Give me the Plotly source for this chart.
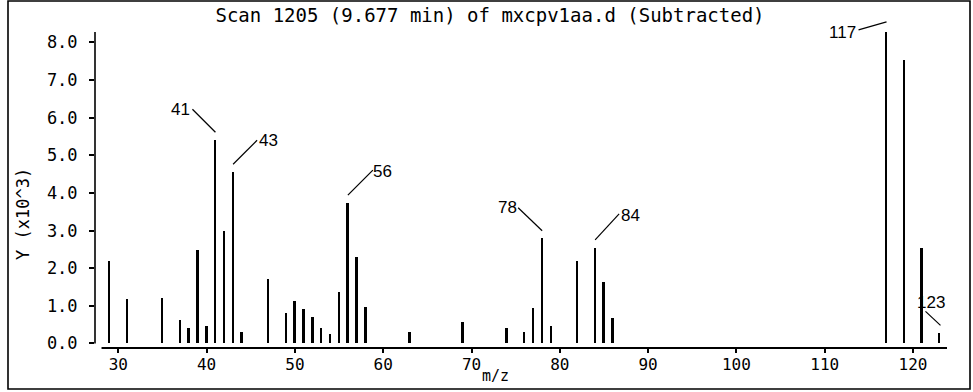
import plotly.graph_objects as go

# Mass spectrum: scan 1205, background subtracted
mz = [29, 31, 35, 37, 38, 39, 40, 41, 42, 43, 44, 47, 49, 50, 51, 52, 53, 54,
      55, 56, 57, 58, 63, 69, 74, 76, 77, 78, 79, 82, 84, 85, 86,
      117, 119, 121, 123]
abundance = [2190, 1170, 1220, 620, 420, 2480, 460, 5400, 2990, 4550, 300,
             1720, 810, 1120, 920, 710, 420, 260, 1370, 3730, 2290, 960,
             310, 570, 420, 310, 930, 2810, 470, 2190, 2540, 1630, 670,
             8280, 7540, 2540, 270]

labelled_peaks = [41, 43, 56, 78, 84, 117, 123]

x_ticks = [30, 40, 50, 60, 70, 80, 90, 100, 110, 120]
y_ticks = [0, 1, 2, 3, 4, 5, 6, 7, 8]

title_text = "Scan 1205 (9.677 min) of mxcpv1aa.d (Subtracted)"
x_title = "m/z"
y_title = "Y (x10^3)"

# leader line (x0, y0, x1, y1) and label centre (dx, dy), pixels from peak top
LEADER = {
    41: ((0, 8, -23, 31), (-35, 31)),
    43: ((0, 8, 24, 32), (35, 32)),
    56: ((0, 8, 25, 33), (35, 32)),
    78: ((0, 7, -24, 30), (-35, 30)),
    84: ((0, 8, 24, 34), (35, 32)),
    117: ((-28, 2, 0, 10), (-44, -1)),
    123: ((-14, 22, 1, 8), (-8, 31)),
}

W, H = 973, 392
ML, MR, MT, MB = 95, 26, 10, 44
PW, PH = W - ML - MR, H - MT - MB
PX_PER_UNIT = 37.63          # vertical pixels per 1000 counts
Y_MIN = -0.12
Y_MAX = Y_MIN + PH / PX_PER_UNIT

y_vals = [a / 1000 for a in abundance]
y_top = max(y_vals)

MONO = "DejaVu Sans Mono"
SANS = "Liberation Sans"


def px_to_paper_x(px):
    return (px - ML) / PW


def px_to_paper_y(py):
    return (H - MB - py) / PH


fig = go.Figure()
fig.add_trace(go.Bar(
    x=mz, y=y_vals, width=0.22,
    marker=dict(color="black", line=dict(width=0)),
    hoverinfo="x+y",
))

shapes = []
annotations = []

# axis lines: y axis from zero to the largest peak, x axis offset below zero
shapes.append(dict(type="line", xref="paper", yref="y", x0=0, x1=0,
                   y0=0, y1=y_top, line=dict(color="black", width=1.6)))
shapes.append(dict(type="line", xref="x", yref="paper", x0=28.1, x1=123.85,
                   y0=0, y1=0, line=dict(color="black", width=1.8)))

# outer frame
shapes.append(dict(type="rect", xref="paper", yref="paper",
                   x0=px_to_paper_x(8), x1=px_to_paper_x(970),
                   y0=px_to_paper_y(389), y1=px_to_paper_y(1),
                   line=dict(color="black", width=1.6)))

for m in labelled_peaks:
    v = y_vals[mz.index(m)]
    (lx0, ly0, lx1, ly1), (tx, ty) = LEADER[m]
    shapes.append(dict(type="line", xref="x", yref="y",
                       xsizemode="pixel", xanchor=m, x0=lx0, x1=lx1,
                       ysizemode="pixel", yanchor=v, y0=ly0, y1=ly1,
                       line=dict(color="black", width=1.2)))
    annotations.append(dict(x=m, y=v, xref="x", yref="y", text=str(m),
                            showarrow=False, xshift=tx, yshift=ty,
                            xanchor="center", yanchor="middle",
                            font=dict(family=SANS, size=17, color="black")))

annotations.append(dict(x=px_to_paper_x(495), y=px_to_paper_y(376),
                        xref="paper", yref="paper", text=x_title,
                        showarrow=False, xanchor="center", yanchor="middle",
                        font=dict(family=MONO, size=15, color="black")))
annotations.append(dict(x=px_to_paper_x(23), y=px_to_paper_y(214),
                        xref="paper", yref="paper", text=y_title,
                        showarrow=False, textangle=-90,
                        xanchor="center", yanchor="middle",
                        font=dict(family=MONO, size=17, color="black")))

fig.update_layout(
    width=W, height=H,
    margin=dict(l=ML, r=MR, t=MT, b=MB, pad=0),
    paper_bgcolor="white", plot_bgcolor="white",
    showlegend=False,
    title=dict(text=title_text, x=490 / W, y=1 - 15 / H,
               xref="container", yref="container",
               xanchor="center", yanchor="middle",
               font=dict(family=MONO, size=19, color="black")),
    xaxis=dict(range=[27.36, 123.85], tickvals=x_ticks,
               ticktext=[str(t) for t in x_ticks],
               showgrid=False, zeroline=False, showline=False,
               ticks="outside", ticklen=4, tickwidth=1.5, tickcolor="black",
               ticklabelstandoff=-2,
               tickfont=dict(family=MONO, size=16, color="black")),
    yaxis=dict(range=[Y_MIN, Y_MAX], tickvals=y_ticks,
               ticktext=[f"{t:.1f}" for t in y_ticks],
               showgrid=False, zeroline=False, showline=False,
               ticks="outside", ticklen=5, tickwidth=1.5, tickcolor="black",
               ticklabelstandoff=8,
               tickfont=dict(family=MONO, size=17, color="black")),
    shapes=shapes,
    annotations=annotations,
    bargap=0,
)

fig.write_html("out.html")
